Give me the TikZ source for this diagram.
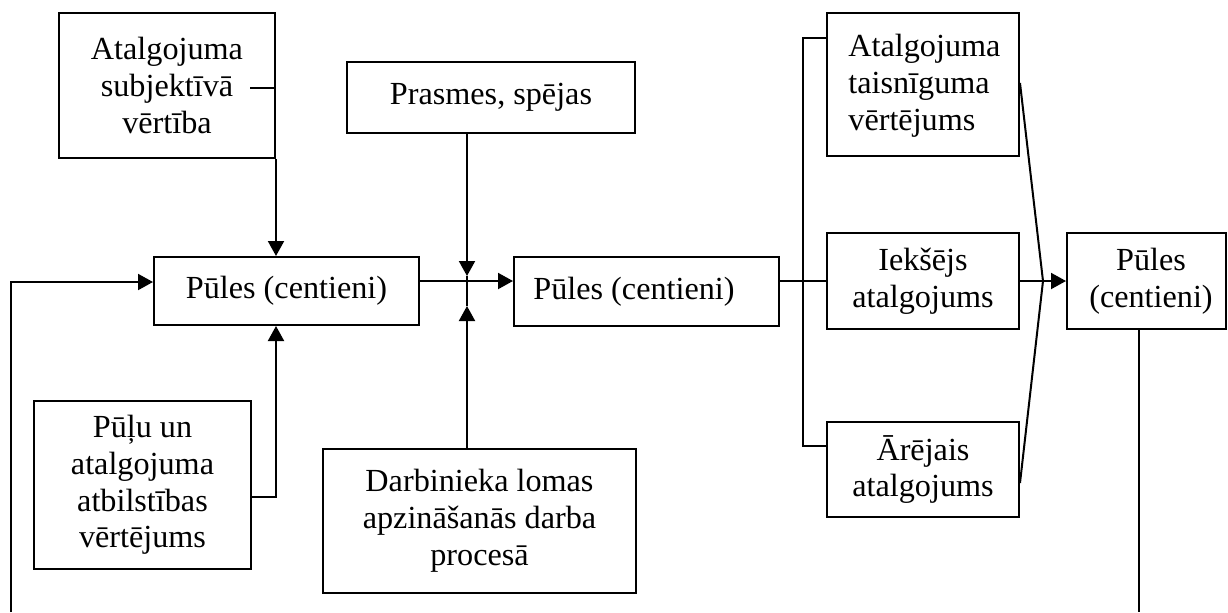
\documentclass[tikz,border=0pt]{standalone}
\usepackage{fontspec}
\setmainfont{Liberation Serif}
\usetikzlibrary{arrows.meta}
\begin{document}
\begin{tikzpicture}[x=0.5pt,y=-0.5pt,
  every node/.style={font=\fontsize{16.1pt}{18.4pt}\selectfont},
  box/.style={draw, line width=1pt, inner sep=0pt, align=center},
  txt/.style={inner sep=0pt, align=center},
  conn/.style={line width=1pt},
  arr/.style={line width=1pt, -{Triangle[length=7.5pt,width=8pt]}}]
\useasboundingbox (0,0) rectangle (1228,612);
% boxes
\node[box, minimum width=108pt, minimum height=72.5pt] (a) at (167,85.5) {Atalgojuma\\subjektīvā\\vērtība};
\node[box, minimum width=144pt, minimum height=35.5pt] (pr) at (491,97.5) {Prasmes, spējas};
\node[box, minimum width=132.5pt, minimum height=34pt] (p1) at (286.5,291) {Pūles (centieni)};
\node[box, minimum width=132.5pt, minimum height=34.5pt] (p2) at (646.5,291.5) {};
\node[txt] (p2t) at (634,291.5) {Pūles (centieni)};
\node[box, minimum width=108.5pt, minimum height=84pt] (pu) at (142.5,485) {Pūļu un\\atalgojuma\\atbilstības\\vērtējums};
\node[box, minimum width=156.5pt, minimum height=72pt] (da) at (479.5,521) {Darbinieka lomas\\apzināšanās darba\\procesā};
\node[box, minimum width=96pt, minimum height=71.5pt] (t) at (923,84.5) {};
\node[txt, align=left, anchor=west] (tt) at (848,86) {Atalgojuma\\taisnīguma\\vērtējums};
\node[box, minimum width=96pt, minimum height=48pt] (i) at (923,281) {Iekšējs\\atalgojums};
\node[box, minimum width=96pt, minimum height=47.5pt] (ar) at (923,469.5) {Ārējais\\atalgojums};
\node[box, minimum width=79.5pt, minimum height=48pt] (p3) at (1146.5,281) {};
\node[txt] (p3t) at (1151,281) {Pūles\\(centieni)};
% helper points
\coordinate (astub) at (250,88);
\coordinate (pustub) at (251,497);
\coordinate (fb) at (11,612);
\coordinate (j) at (467,281);
\coordinate (bt) at (803,38);
\coordinate (bb) at (803,446);
\coordinate (cv) at (1043,281);
\coordinate (fb2) at (1139,612);
% connectors
\draw[conn] (astub) -- (astub -| a.east);
\draw[arr] (a.south east) -- (a.south east |- p1.north);
\draw[arr] (pustub) -| (p1.south -| a.south east);
\draw[arr] (fb) |- ([yshift=4.5pt]p1.west);
\draw[arr] (p1.east |- j) -- (p2.west |- j);
\draw[arr] (pr.south -| j) -- ([yshift=2.5pt]j);
\draw[arr] (da.north -| j) -- ([yshift=-12.5pt]j);
\draw[conn] ([yshift=2.5pt]j) -- ([yshift=-12.5pt]j);
\draw[conn] (p2.east |- i.west) -- (i.west);
\draw[conn] (t.west |- bt) -- (bt) -- (bb) -- (ar.west |- bb);
\draw[conn] (i.east) -- (cv);
\draw[arr] (cv) -- (p3.west |- cv);
\draw[conn] ([yshift=0.75pt]t.east) -- (cv);
\draw[conn] ([yshift=-6.75pt]ar.east) -- (cv);
\draw[conn] (p3.south -| fb2) -- (fb2);
\end{tikzpicture}
\end{document}
